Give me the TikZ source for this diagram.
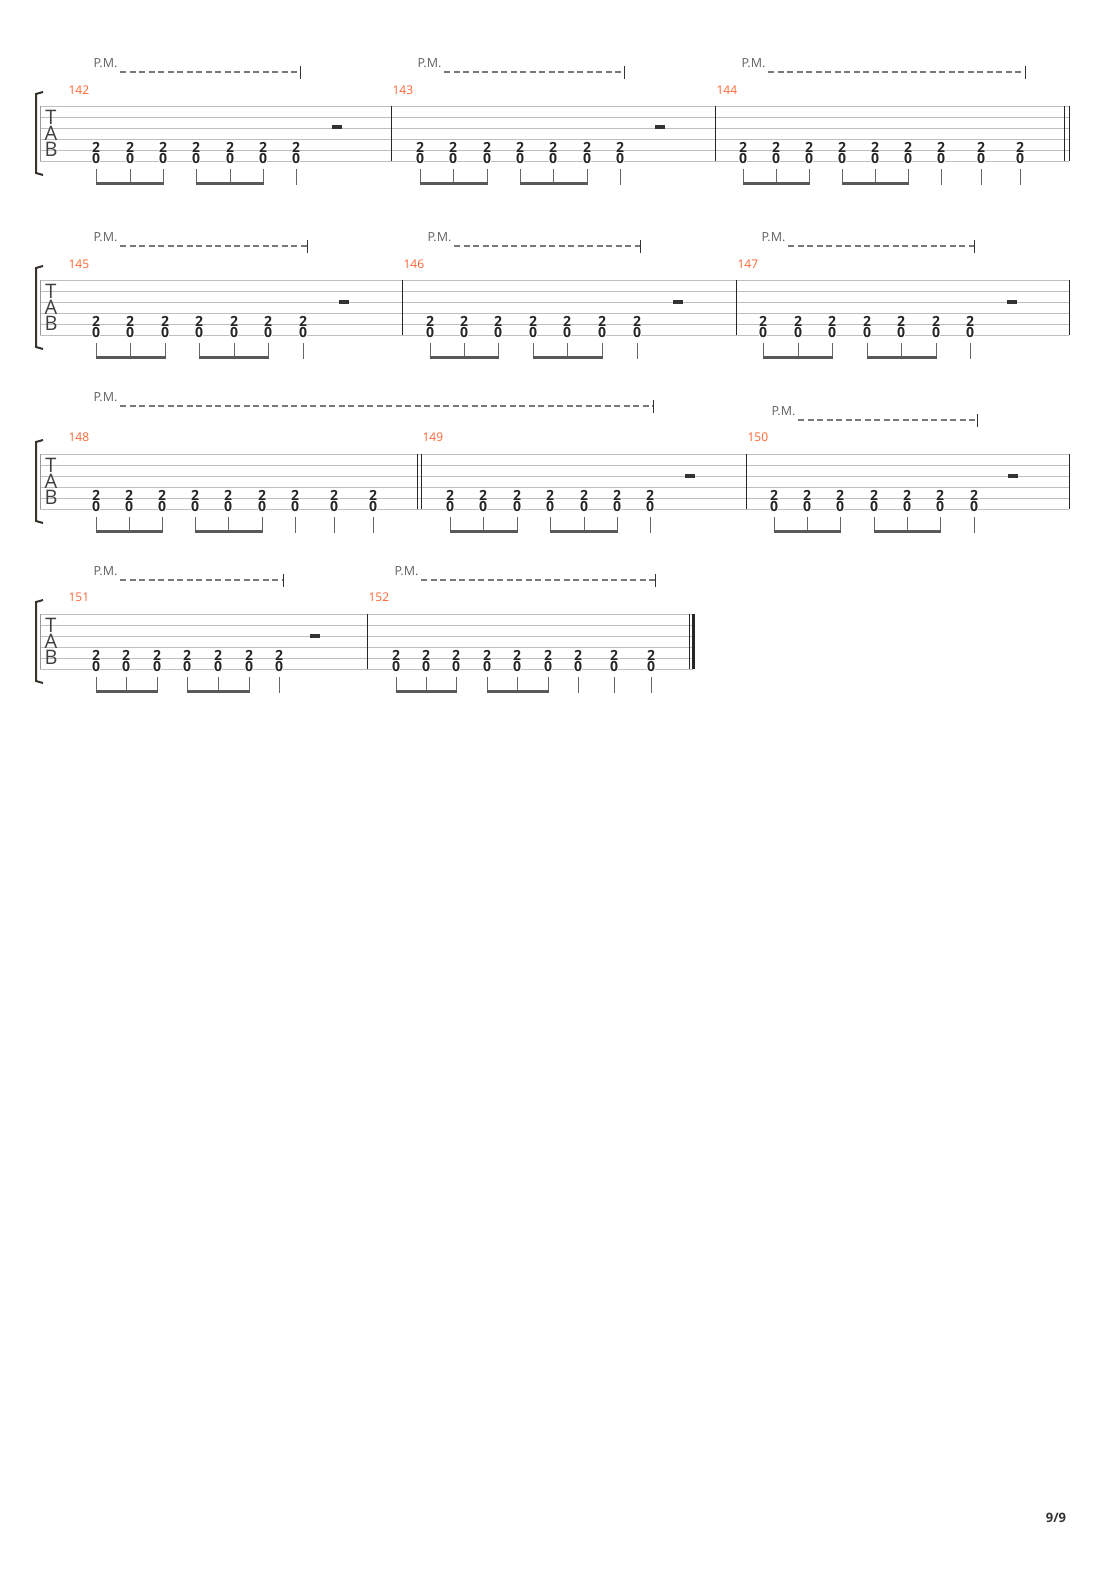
\documentclass[tikz,border=0pt]{standalone}
\usepackage{fontspec}
\setmainfont{Open Sans}
\definecolor{barnum}{RGB}{255,100,50}
\definecolor{pmgray}{RGB}{120,120,120}
\tikzset{
  fret/.style={font=\fontsize{14}{14}\selectfont\bfseries, fill=white, inner sep=0.2pt, text=black!85},
  measnum/.style={font=\fontsize{12}{12}\selectfont, text=barnum, anchor=west},
  pmtext/.style={font=\fontsize{12.5}{12.5}\selectfont, text=pmgray!80!black, anchor=west},
  pmline/.style={draw=pmgray, dash pattern=on 6pt off 3.5pt, line width=1.2pt},
  strline/.style={draw=black!25, line width=0.8pt},
  barline/.style={draw=black!85, line width=1pt},
  stem/.style={draw=black!60, line width=1pt},
  beam/.style={draw=black!65, line width=3.2pt},
}
% one staff: top y, right end x
\newcommand{\tabstaff}[2]{%
  \foreach \s in {0,...,5} \draw[strline] (40,#1+11*\s) -- (#2,#1+11*\s);
  \draw[line width=0.8pt, black!40] (40,#1) -- (40,#1+55);
  \node[font=\fontsize{20}{20}\selectfont, text=black!75, inner sep=0] at (51,#1+11) {T};
  \node[font=\fontsize{20}{20}\selectfont, text=black!75, inner sep=0] at (51,#1+27) {A};
  \node[font=\fontsize{20}{20}\selectfont, text=black!75, inner sep=0] at (51,#1+43) {B};
  \draw[line width=2pt, black!80!olive] (43,#1-14) -- (36,#1-12) -- (36,#1+67) -- (43,#1+69);
}
% chord column with separate stem
\newcommand{\chordat}[2]{%
  \node[fret] (n2) at (#2,#1+41) {2};
  \node[fret] (n0) at (#2,#1+52) {0};
  \draw[stem] (#2,#1+63) -- (#2,#1+79);
}
\newcommand{\beamgrp}[4]{% top, x1, x2, x3
  \foreach \x in {#2,#3,#4} \chordat{#1}{\x};
  \draw[beam] (#2-0.5,#1+77.5) -- (#4+0.5,#1+77.5);
}
\newcommand{\restat}[2]{\fill[black!80] (#2-5,#1+19.5) rectangle (#2+5,#1+23.5);}
\newcommand{\palm}[4]{% x text, y, dash start, dash end
  \node[pmtext] (pm) at (#1-2,#2) {P.M.};
  \draw[pmline] (#3,#2+9) -- (#4,#2+9);
  \draw[black!80, line width=1pt] (#4,#2+3) -- (#4,#2+16);
}
\begin{document}
\begin{tikzpicture}[x=1pt,y=-1pt]
\useasboundingbox (0,0) rectangle (1110,1570);
% system 1
\tabstaff{106}{1069}
\draw[barline] (391,106) -- (391,161);
\draw[barline] (715,106) -- (715,161);
\draw[barline] (1064,106) -- (1064,161);
\draw[barline] (1069,106) -- (1069,161);
\node[measnum] at (65,90) {142};
\node[measnum] at (389,90) {143};
\node[measnum] at (713,90) {144};
\palm{92}{63}{120}{300}
\palm{416}{63}{444}{624}
\palm{740}{63}{768}{1025}
\beamgrp{106}{96}{130}{163}\beamgrp{106}{196}{230}{263}\chordat{106}{296}\restat{106}{337}
\beamgrp{106}{420}{453}{487}\beamgrp{106}{520}{553}{587}\chordat{106}{620}\restat{106}{660}
\beamgrp{106}{743}{776}{809}\beamgrp{106}{842}{875}{908}
\foreach \x in {941,981,1020} \chordat{106}{\x};
% system 2
\tabstaff{280}{1069}
\foreach \x in {402,736,1069} \draw[barline] (\x,280) -- (\x,335);
\node[measnum] at (65,264) {145};
\node[measnum] at (400,264) {146};
\node[measnum] at (734,264) {147};
\palm{92}{237}{120}{307}
\palm{426}{237}{454}{640}
\palm{760}{237}{788}{974}
\beamgrp{280}{96}{130}{165}\beamgrp{280}{199}{234}{268}\chordat{280}{303}\restat{280}{344}
\beamgrp{280}{430}{464}{498}\beamgrp{280}{533}{567}{602}\chordat{280}{637}\restat{280}{678}
\beamgrp{280}{763}{798}{832}\beamgrp{280}{867}{901}{936}\chordat{280}{970}\restat{280}{1012}
% system 3
\tabstaff{454}{1069}
\foreach \x in {417,421,746,1069} \draw[barline] (\x,454) -- (\x,509);
\node[measnum] at (65,437) {148};
\node[measnum] at (419,437) {149};
\node[measnum] at (744,437) {150};
\palm{92}{397}{120}{653}
\palm{770}{411}{798}{977}
\beamgrp{454}{96}{129}{162}\beamgrp{454}{195}{228}{262}
\foreach \x in {295,334,373} \chordat{454}{\x};
\beamgrp{454}{450}{483}{517}\beamgrp{454}{550}{584}{617}\chordat{454}{650}\restat{454}{690}
\beamgrp{454}{774}{807}{840}\beamgrp{454}{874}{907}{940}\chordat{454}{974}\restat{454}{1013}
% system 4
\tabstaff{614}{693}
\draw[barline] (367,614) -- (367,669);
\draw[barline] (689,614) -- (689,669);
\draw[black!85, line width=3pt] (693.5,614) -- (693.5,669);
\node[measnum] at (65,597) {151};
\node[measnum] at (365,597) {152};
\palm{92}{571}{120}{283}
\palm{393}{571}{421}{655}
\beamgrp{614}{96}{126}{157}\beamgrp{614}{187}{218}{249}\chordat{614}{279}\restat{614}{315}
\beamgrp{614}{396}{426}{456}\beamgrp{614}{487}{517}{548}
\foreach \x in {578,614,651} \chordat{614}{\x};
% page number
\node[font=\fontsize{13}{13}\selectfont\bfseries, text=black!80] (page) at (1056,1518) {9/9};
\end{tikzpicture}
\end{document}
